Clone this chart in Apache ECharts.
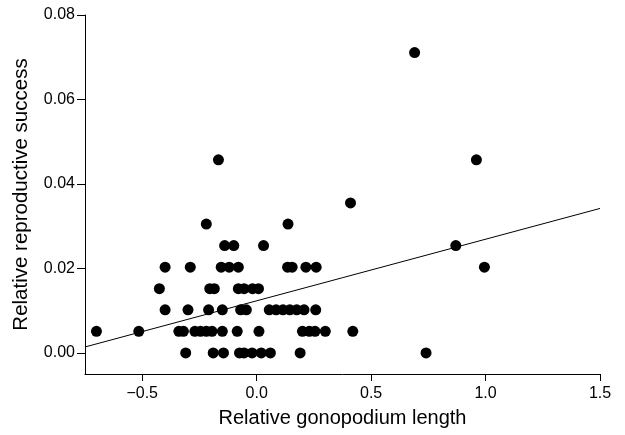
<!DOCTYPE html>
<html>
<head>
<meta charset="utf-8">
<script src="https://cdn.jsdelivr.net/npm/echarts@6/dist/echarts.min.js"></script>
<style>
html,body{margin:0;padding:0;background:#fff;}
#chart{width:625px;height:435px;}
</style>
</head>
<body>
<div id="chart"></div>
<script>
// Relative gonopodium length (x) and relative reproductive success (y)
var gonoLength = [
  -0.31, -0.19, -0.145, -0.075, -0.055, -0.02, 0.02, 0.06, 0.19, 0.74,
  -0.70, -0.515, -0.34, -0.32, -0.27, -0.245, -0.22, -0.195, -0.15, -0.085, 0.01, 0.20, 0.23, 0.255, 0.30, 0.42,
  -0.40, -0.30, -0.21, -0.15, -0.07, -0.045, 0.055, 0.085, 0.115, 0.145, 0.175, 0.207, 0.258,
  -0.425, -0.205, -0.185, -0.08, -0.055, -0.018, 0.008,
  -0.40, -0.29, -0.155, -0.12, -0.08, 0.135, 0.155, 0.215, 0.26, 0.995,
  -0.14, -0.10, 0.03, 0.87,
  -0.22, 0.137,
  0.41,
  -0.167, 0.96,
  0.69
];
var reproSuccess = [
  0, 0, 0, 0, 0, 0, 0, 0, 0, 0,
  0.0051, 0.0051, 0.0051, 0.0051, 0.0051, 0.0051, 0.0051, 0.0051, 0.0051, 0.0051, 0.0051, 0.0051, 0.0051, 0.0051, 0.0051, 0.0051,
  0.0102, 0.0102, 0.0102, 0.0102, 0.0102, 0.0102, 0.0102, 0.0102, 0.0102, 0.0102, 0.0102, 0.0102, 0.0102,
  0.0152, 0.0152, 0.0152, 0.0152, 0.0152, 0.0152, 0.0152,
  0.0203, 0.0203, 0.0203, 0.0203, 0.0203, 0.0203, 0.0203, 0.0203, 0.0203, 0.0203,
  0.0254, 0.0254, 0.0254, 0.0254,
  0.0305, 0.0305,
  0.0355,
  0.0457, 0.0457,
  0.0711
];
// Regression line end points
var fitX = [-0.75, 1.5];
var fitY = [0.0014, 0.0342];

var xTickValues = [-0.5, 0, 0.5, 1.0, 1.5];
var xTickLabels = ['\u22120.5', '0.0', '0.5', '1.0', '1.5'];
var yTickValues = [0, 0.02, 0.04, 0.06, 0.08];
var yTickLabels = ['0.00', '0.02', '0.04', '0.06', '0.08'];

var points = gonoLength.map(function (x, i) { return [x, reproSuccess[i]]; });
var fitLine = fitX.map(function (x, i) { return [x, fitY[i]]; });

function labelFor(values, labels) {
  return function (v) {
    for (var i = 0; i < values.length; i++) {
      if (Math.abs(values[i] - v) < 1e-9) return labels[i];
    }
    return '';
  };
}

var FONT = 'Liberation Sans, Arial, sans-serif';
var chart = echarts.init(document.getElementById('chart'), null, {renderer: 'canvas'});
chart.setOption({
  animation: false,
  backgroundColor: '#ffffff',
  grid: {left: 85, right: 25, top: 15, bottom: 61, containLabel: false, outerBoundsMode: 'none'},
  xAxis: {
    type: 'value',
    min: -0.75,
    max: 1.5,
    name: 'Relative gonopodium length',
    nameLocation: 'middle',
    nameGap: 34,
    nameTextStyle: {color: '#000', fontSize: 20, fontFamily: FONT},
    axisLine: {show: true, onZero: false, lineStyle: {color: '#000', width: 1}},
    axisTick: {show: true, length: 7, inside: false, customValues: xTickValues, lineStyle: {color: '#000', width: 1}},
    axisLabel: {show: true, margin: 12, color: '#000', fontSize: 16, fontFamily: FONT,
      customValues: xTickValues, formatter: labelFor(xTickValues, xTickLabels)},
    splitLine: {show: false}
  },
  yAxis: {
    type: 'value',
    min: -0.005,
    max: 0.08,
    name: 'Relative reproductive success',
    nameLocation: 'middle',
    nameGap: 53,
    nameTextStyle: {color: '#000', fontSize: 20.5, fontFamily: FONT},
    axisLine: {show: true, onZero: false, lineStyle: {color: '#000', width: 1}},
    axisTick: {show: true, length: 8, inside: false, customValues: yTickValues, lineStyle: {color: '#000', width: 1}},
    axisLabel: {show: true, margin: 10, color: '#000', fontSize: 16, fontFamily: FONT,
      customValues: yTickValues, formatter: labelFor(yTickValues, yTickLabels)},
    splitLine: {show: false}
  },
  series: [
    {
      type: 'line',
      data: fitLine,
      showSymbol: false,
      symbol: 'none',
      lineStyle: {color: '#000', width: 1},
      z: 1,
      silent: true
    },
    {
      type: 'scatter',
      data: points,
      symbol: 'circle',
      symbolSize: 11,
      itemStyle: {color: '#000', opacity: 1},
      z: 2
    }
  ]
});
</script>
</body>
</html>
